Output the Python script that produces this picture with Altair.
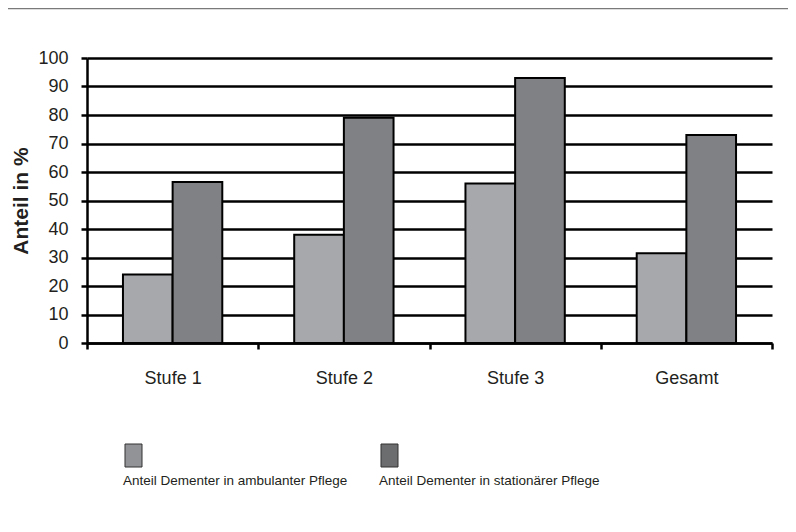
import altair as alt
import pandas as pd

categories = ["Stufe 1", "Stufe 2", "Stufe 3", "Gesamt"]
series = ["Anteil Dementer in ambulanter Pflege", "Anteil Dementer in stationärer Pflege"]
ambulant = [24, 38, 56, 31.5]
stationaer = [56.5, 79, 93, 73]
y_ticks = [0, 10, 20, 30, 40, 50, 60, 70, 80, 90, 100]
bar_colors = ["#a7a8ab", "#808184"]
legend_colors = ["#929396", "#6c6d6f"]

rows = []
for c, a, s in zip(categories, ambulant, stationaer):
    rows.append({"Stufe": c, "Reihe": series[0], "Wert": a})
    rows.append({"Stufe": c, "Reihe": series[1], "Wert": s})
df = pd.DataFrame(rows)
leg = pd.DataFrame({"Reihe": series})

FONT = "Liberation Sans"
TXT = "#231f20"

bars = alt.Chart(df).mark_bar(stroke="black", strokeWidth=2).encode(
    x=alt.X(
        "Stufe:N", sort=categories,
        scale=alt.Scale(paddingInner=0, paddingOuter=0),
        axis=alt.Axis(title=None, labelAngle=0, tickBand="extent", grid=False,
                      domainColor="black", domainWidth=2.5, tickColor="black",
                      tickWidth=2.5, tickSize=6, labelFontSize=18, labelPadding=20,
                      labelColor=TXT, labelFont=FONT),
    ),
    xOffset=alt.XOffset("Reihe:N", sort=series,
                        scale=alt.Scale(paddingInner=0, paddingOuter=0.724)),
    y=alt.Y(
        "Wert:Q", scale=alt.Scale(domain=[0, 100]),
        axis=alt.Axis(values=y_ticks, title="Anteil in %", grid=True,
                      gridColor="black", gridWidth=2.5, domainColor="black",
                      domainWidth=2.5, tickColor="black", tickWidth=2.5, tickSize=6,
                      labelFontSize=18, labelPadding=13, labelColor=TXT, labelFont=FONT,
                      titleFont=FONT, titleFontSize=21, titleFontWeight="bold",
                      titleColor=TXT, titlePadding=6),
    ),
    color=alt.Color("Reihe:N", scale=alt.Scale(domain=series, range=bar_colors), legend=None),
)

leg_x = alt.X("Reihe:N", sort=series,
              scale=alt.Scale(type="point", domain=series, range=[46.5, 302.5], padding=0),
              axis=None)

leg_sq = alt.Chart(leg).mark_point(
    shape="M-0.74,-1L0.74,-1L0.74,1L-0.74,1Z", size=529, filled=True,
    stroke="#333333", strokeWidth=1, opacity=1,
).encode(
    x=leg_x,
    y=alt.value(397.5),
    color=alt.Color("Reihe:N", scale=alt.Scale(domain=series, range=legend_colors), legend=None),
)

leg_txt = alt.Chart(leg).mark_text(
    align="left", baseline="middle", dx=-10.5, fontSize=13.5, font=FONT, color=TXT,
).encode(
    x=leg_x,
    y=alt.value(423),
    text="Reihe:N",
)

legend = alt.layer(leg_sq, leg_txt)

top_line = alt.Chart(pd.DataFrame({"a": [0]})).mark_rule(color="#7a7a7a", strokeWidth=2.5).encode(
    x=alt.value(-79), x2=alt.value(701), y=alt.value(-50)
)

chart = alt.layer(bars, legend, top_line).resolve_scale(
    x="independent", color="independent"
).properties(
    width=685, height=285,
    autosize=alt.AutoSizeParams(type="none"),
    padding={"left": 79, "top": 50, "right": 16, "bottom": 170},
).configure_view(strokeWidth=0)

chart.save("out.html", embed_options={"renderer": "svg", "actions": False})
